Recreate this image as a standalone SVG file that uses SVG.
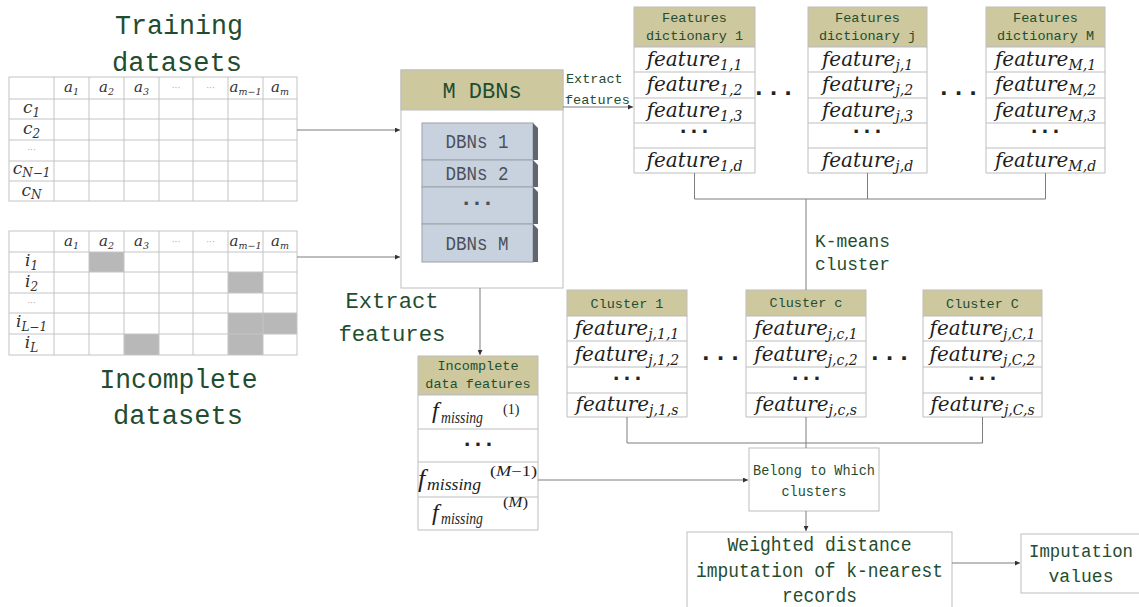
<svg xmlns="http://www.w3.org/2000/svg" width="1139" height="607" viewBox="0 0 1139 607">
<style>
.mono{font-family:"Liberation Mono",monospace;fill:#1f4d30}
.title{font-size:27px}
.big{font-size:22px}
.mid{font-size:19px}
.sm{font-size:13.5px}
.it{font-family:"DejaVu Serif",serif;font-style:italic;fill:#1e1e1e}
.ft{font-size:20px}
.sub{font-size:14px}
.tl{font-size:15px;fill:#333}
.tr{font-size:17px;fill:#333}
.ts{font-size:9.5px}
.trs{font-size:12px}
.lt{font-family:"DejaVu Sans",sans-serif;font-size:9px;fill:#aaa}
.dots{font-family:"DejaVu Sans",sans-serif;font-weight:bold;font-size:18px;fill:#222;letter-spacing:4px}
.dotsb{font-family:"DejaVu Sans",sans-serif;font-weight:bold;font-size:20px;fill:#222;letter-spacing:7px}
.grid{fill:none;stroke:#c4c4c4;stroke-width:1}
.gray{fill:#b8b8b8}
.box{fill:#fff;stroke:#bdbdbd;stroke-width:1}
.hdr{fill:#cdc89e;stroke:#bdbdbd;stroke-width:1}
.dbn{fill:#c8d2de;stroke:#9aa1aa;stroke-width:1}
.side{fill:#62666c}
.dbt{font-family:"Liberation Mono",monospace;font-size:20px;fill:#4a505a}
.conn{fill:none;stroke:#7d7d7d;stroke-width:1}
.mt{font-family:"Liberation Serif",serif;font-style:italic;fill:#1e1e1e}
.up{font-family:"Liberation Serif",serif;fill:#1e1e1e}
</style>
<defs>
<marker id="arr" markerUnits="userSpaceOnUse" markerWidth="5" markerHeight="5" refX="5" refY="2.5" orient="auto">
<path d="M0,0 L5,2.5 L0,5 z" fill="#333"/>
</marker>
</defs>
<rect width="1139" height="607" fill="#fff"/>

<g id="training-datasets">
<text class="mono title" x="179" y="34" text-anchor="middle" textLength="128" lengthAdjust="spacingAndGlyphs">Training</text>
<text class="mono title" x="177" y="71" text-anchor="middle" textLength="130" lengthAdjust="spacingAndGlyphs">datasets</text>
<rect class="grid" x="9" y="77" width="288" height="124"/>
<path class="grid" d="M54,77V201M89,77V201M124,77V201M159,77V201M193,77V201M228,77V201M263,77V201M9,99H297M9,119H297M9,140H297M9,161H297M9,181H297"/>
<g class="it tl">
<text x="71.5" y="92" text-anchor="middle">a<tspan class="ts" dy="3">1</tspan></text>
<text x="106.5" y="92" text-anchor="middle">a<tspan class="ts" dy="3">2</tspan></text>
<text x="141.5" y="92" text-anchor="middle">a<tspan class="ts" dy="3">3</tspan></text>
<text x="245.5" y="92" text-anchor="middle">a<tspan class="ts" dy="3">m−1</tspan></text>
<text x="280" y="92" text-anchor="middle">a<tspan class="ts" dy="3">m</tspan></text>
</g>
<text class="lt" x="176" y="91" text-anchor="middle">···</text>
<text class="lt" x="210.5" y="91" text-anchor="middle">···</text>
<g class="it tr">
<text x="31.5" y="113" text-anchor="middle">c<tspan class="trs" dy="4">1</tspan></text>
<text x="31.5" y="134" text-anchor="middle">c<tspan class="trs" dy="4">2</tspan></text>
<text x="31.5" y="174" text-anchor="middle">c<tspan class="trs" dy="3" font-size="11">N−1</tspan></text>
<text x="31.5" y="196" text-anchor="middle">c<tspan class="trs" dy="3">N</tspan></text>
</g>
<text class="lt" x="31.5" y="153" text-anchor="middle">···</text>
</g>

<g id="incomplete-datasets">
<rect class="gray" x="89" y="252" width="35" height="20"/>
<rect class="gray" x="228" y="272" width="35" height="21"/>
<rect class="gray" x="228" y="313" width="69" height="21"/>
<rect class="gray" x="124" y="334" width="35" height="21"/>
<rect class="gray" x="228" y="334" width="35" height="21"/>
<rect class="grid" x="9" y="231" width="288" height="124"/>
<path class="grid" d="M54,231V355M89,231V355M124,231V355M159,231V355M193,231V355M228,231V355M263,231V355M9,252H297M9,272H297M9,293H297M9,313H297M9,334H297"/>
<g class="it tl">
<text x="71.5" y="246" text-anchor="middle">a<tspan class="ts" dy="3">1</tspan></text>
<text x="106.5" y="246" text-anchor="middle">a<tspan class="ts" dy="3">2</tspan></text>
<text x="141.5" y="246" text-anchor="middle">a<tspan class="ts" dy="3">3</tspan></text>
<text x="245.5" y="246" text-anchor="middle">a<tspan class="ts" dy="3">m−1</tspan></text>
<text x="280" y="246" text-anchor="middle">a<tspan class="ts" dy="3">m</tspan></text>
</g>
<text class="lt" x="176" y="245" text-anchor="middle">···</text>
<text class="lt" x="210.5" y="245" text-anchor="middle">···</text>
<g class="it tr">
<text x="31.5" y="266" text-anchor="middle">i<tspan class="trs" dy="4">1</tspan></text>
<text x="31.5" y="287" text-anchor="middle">i<tspan class="trs" dy="4">2</tspan></text>
<text x="31.5" y="327" text-anchor="middle">i<tspan class="trs" dy="4">L−1</tspan></text>
<text x="31.5" y="348" text-anchor="middle">i<tspan class="trs" dy="4">L</tspan></text>
</g>
<text class="lt" x="31.5" y="306" text-anchor="middle">···</text>
<text class="mono title" x="178.5" y="388" text-anchor="middle" textLength="158" lengthAdjust="spacingAndGlyphs">Incomplete</text>
<text class="mono title" x="178" y="424" text-anchor="middle" textLength="130" lengthAdjust="spacingAndGlyphs">datasets</text>
</g>

<g id="m-dbns">
<rect class="box" x="401" y="70" width="162" height="218"/>
<rect class="hdr" x="401" y="70" width="162" height="40"/>
<text class="mono big" x="482" y="98" text-anchor="middle">M DBNs</text>
<rect class="dbn" x="422" y="123" width="111" height="37"/>
<polygon class="side" points="533,123 538,128 538,160 533,160"/>
<rect class="dbn" x="422" y="160" width="111" height="27"/>
<polygon class="side" points="533,160 538,165 538,187 533,187"/>
<rect class="dbn" x="422" y="187" width="111" height="37"/>
<polygon class="side" points="533,187 538,192 538,224 533,224"/>
<rect class="dbn" x="422" y="224" width="111" height="38"/>
<polygon class="side" points="533,224 538,229 538,262 533,262"/>
<text class="dbt" x="477" y="148" text-anchor="middle" textLength="63" lengthAdjust="spacingAndGlyphs">DBNs 1</text>
<text class="dbt" x="477" y="180" text-anchor="middle" textLength="63" lengthAdjust="spacingAndGlyphs">DBNs 2</text>
<text class="dots" x="479" y="210" text-anchor="middle" style="fill:#4a505a">···</text>
<text class="dbt" x="477" y="250" text-anchor="middle" textLength="63" lengthAdjust="spacingAndGlyphs">DBNs M</text>
</g>

<g id="extract-label-top">
<text class="mono sm" x="566" y="83">Extract</text>
<text class="mono sm" x="565" y="104">features</text>
</g>

<g id="extract-label-big">
<text class="mono big" x="392" y="308" text-anchor="middle" textLength="93" lengthAdjust="spacingAndGlyphs">Extract</text>
<text class="mono big" x="392" y="341" text-anchor="middle" textLength="107" lengthAdjust="spacingAndGlyphs">features</text>
</g>

<g id="dict-1">
<rect class="hdr" x="634" y="7" width="121" height="40"/>
<path class="box" d="M634,47H755V173H634Z M634,72H755M634,98H755M634,123H755M634,148H755"/>
<text class="mono sm" x="694.5" y="22" text-anchor="middle">Features</text>
<text class="mono sm" x="694.5" y="40" text-anchor="middle">dictionary 1</text>
<text class="it ft" x="694.5" y="66" text-anchor="middle">feature<tspan class="sub" dy="4">1,1</tspan></text>
<text class="it ft" x="694.5" y="91" text-anchor="middle">feature<tspan class="sub" dy="4">1,2</tspan></text>
<text class="it ft" x="694.5" y="117" text-anchor="middle">feature<tspan class="sub" dy="4">1,3</tspan></text>
<text class="dots" x="696" y="138" text-anchor="middle">···</text>
<text class="it ft" x="694.5" y="167" text-anchor="middle">feature<tspan class="sub" dy="4">1,d</tspan></text>
</g>
<text class="dotsb" x="777" y="100" text-anchor="middle">···</text>
<g id="dict-j">
<rect class="hdr" x="808" y="7" width="119" height="40"/>
<path class="box" d="M808,47H927V173H808Z M808,72H927M808,98H927M808,123H927M808,148H927"/>
<text class="mono sm" x="867.5" y="22" text-anchor="middle">Features</text>
<text class="mono sm" x="867.5" y="40" text-anchor="middle">dictionary j</text>
<text class="it ft" x="867.5" y="66" text-anchor="middle">feature<tspan class="sub" dy="4">j,1</tspan></text>
<text class="it ft" x="867.5" y="91" text-anchor="middle">feature<tspan class="sub" dy="4">j,2</tspan></text>
<text class="it ft" x="867.5" y="117" text-anchor="middle">feature<tspan class="sub" dy="4">j,3</tspan></text>
<text class="dots" x="869" y="138" text-anchor="middle">···</text>
<text class="it ft" x="867.5" y="167" text-anchor="middle">feature<tspan class="sub" dy="4">j,d</tspan></text>
</g>
<text class="dotsb" x="962" y="100" text-anchor="middle">···</text>
<g id="dict-M">
<rect class="hdr" x="986" y="7" width="119" height="40"/>
<path class="box" d="M986,47H1105V173H986Z M986,72H1105M986,98H1105M986,123H1105M986,148H1105"/>
<text class="mono sm" x="1045.5" y="22" text-anchor="middle">Features</text>
<text class="mono sm" x="1045.5" y="40" text-anchor="middle">dictionary M</text>
<text class="it ft" x="1045.5" y="66" text-anchor="middle">feature<tspan class="sub" dy="4">M,1</tspan></text>
<text class="it ft" x="1045.5" y="91" text-anchor="middle">feature<tspan class="sub" dy="4">M,2</tspan></text>
<text class="it ft" x="1045.5" y="117" text-anchor="middle">feature<tspan class="sub" dy="4">M,3</tspan></text>
<text class="dots" x="1047" y="138" text-anchor="middle">···</text>
<text class="it ft" x="1045.5" y="167" text-anchor="middle">feature<tspan class="sub" dy="4">M,d</tspan></text>
</g>

<g id="kmeans-label">
<text class="mono mid" x="815" y="247" textLength="75" lengthAdjust="spacingAndGlyphs">K-means</text>
<text class="mono mid" x="815" y="270" textLength="75" lengthAdjust="spacingAndGlyphs">cluster</text>
</g>

<g id="cluster-1">
<rect class="hdr" x="567" y="290" width="120" height="26"/>
<path class="box" d="M567,316H687V417H567Z M567,341H687M567,367H687M567,393H687"/>
<text class="mono sm" x="627" y="308" text-anchor="middle">Cluster 1</text>
<text class="it ft" x="627" y="335" text-anchor="middle">feature<tspan class="sub" dy="4">j,1,1</tspan></text>
<text class="it ft" x="627" y="361" text-anchor="middle">feature<tspan class="sub" dy="4">j,1,2</tspan></text>
<text class="dots" x="629" y="385" text-anchor="middle">···</text>
<text class="it ft" x="627" y="411" text-anchor="middle">feature<tspan class="sub" dy="4">j,1,s</tspan></text>
</g>
<text class="dotsb" x="724" y="365" text-anchor="middle">···</text>
<g id="cluster-c">
<rect class="hdr" x="746" y="290" width="120" height="26"/>
<path class="box" d="M746,316H866V417H746Z M746,341H866M746,367H866M746,393H866"/>
<text class="mono sm" x="806" y="307" text-anchor="middle">Cluster c</text>
<text class="it ft" x="806" y="335" text-anchor="middle">feature<tspan class="sub" dy="4">j,c,1</tspan></text>
<text class="it ft" x="806" y="361" text-anchor="middle">feature<tspan class="sub" dy="4">j,c,2</tspan></text>
<text class="dots" x="808" y="385" text-anchor="middle">···</text>
<text class="it ft" x="806" y="411" text-anchor="middle">feature<tspan class="sub" dy="4">j,c,s</tspan></text>
</g>
<text class="dotsb" x="893" y="365" text-anchor="middle">···</text>
<g id="cluster-C">
<rect class="hdr" x="923" y="290" width="119" height="26"/>
<path class="box" d="M923,316H1042V417H923Z M923,341H1042M923,367H1042M923,393H1042"/>
<text class="mono sm" x="982.5" y="308" text-anchor="middle">Cluster C</text>
<text class="it ft" x="982.5" y="335" text-anchor="middle">feature<tspan class="sub" dy="4">j,C,1</tspan></text>
<text class="it ft" x="982.5" y="361" text-anchor="middle">feature<tspan class="sub" dy="4">j,C,2</tspan></text>
<text class="dots" x="984" y="385" text-anchor="middle">···</text>
<text class="it ft" x="982.5" y="411" text-anchor="middle">feature<tspan class="sub" dy="4">j,C,s</tspan></text>
</g>

<g id="incomplete-features">
<rect class="hdr" x="418" y="356" width="120" height="39"/>
<path class="box" d="M418,395H538V530H418Z M418,429H538M418,462H538M418,497H538"/>
<text class="mono sm" x="478" y="370" text-anchor="middle">Incomplete</text>
<text class="mono sm" x="478" y="388" text-anchor="middle">data features</text>
<text class="mt" x="432" y="418" font-size="24">f</text>
<text class="mt" x="441" y="423" font-size="16" textLength="42" lengthAdjust="spacingAndGlyphs">missing</text>
<text class="up" x="503" y="414" font-size="14">(1)</text>
<text class="dots" x="480" y="451" text-anchor="middle">···</text>
<text class="mt" x="418" y="487" font-size="26">f</text>
<text class="mt" x="427" y="490" font-size="17" textLength="54" lengthAdjust="spacingAndGlyphs">missing</text>
<text class="up" x="490" y="476" font-size="14" textLength="47" lengthAdjust="spacingAndGlyphs">(<tspan font-style="italic">M</tspan>−1)</text>
<text class="mt" x="432" y="520" font-size="24">f</text>
<text class="mt" x="441" y="524" font-size="16" textLength="42" lengthAdjust="spacingAndGlyphs">missing</text>
<text class="up" x="503" y="507" font-size="14" textLength="25" lengthAdjust="spacingAndGlyphs">(<tspan font-style="italic">M</tspan>)</text>
</g>

<g id="belong">
<rect class="box" x="749" y="448" width="130" height="63"/>
<text class="mono" x="814" y="475" font-size="15" text-anchor="middle" textLength="122" lengthAdjust="spacingAndGlyphs">Belong to Which</text>
<text class="mono" x="814" y="496" font-size="15" text-anchor="middle" textLength="65" lengthAdjust="spacingAndGlyphs">clusters</text>
</g>

<g id="weighted">
<rect class="box" x="687" y="532" width="265" height="90"/>
<text class="mono" x="819.5" y="551" font-size="20" text-anchor="middle" textLength="184" lengthAdjust="spacingAndGlyphs">Weighted distance</text>
<text class="mono" x="819.5" y="577" font-size="20" text-anchor="middle" textLength="247" lengthAdjust="spacingAndGlyphs">imputation of k-nearest</text>
<text class="mono" x="819.5" y="602" font-size="20" text-anchor="middle" textLength="75" lengthAdjust="spacingAndGlyphs">records</text>
</g>

<g id="imputation">
<rect class="box" x="1021" y="534" width="130" height="59"/>
<text class="mono" x="1081" y="557" font-size="18" text-anchor="middle" textLength="104" lengthAdjust="spacingAndGlyphs">Imputation</text>
<text class="mono" x="1081" y="582" font-size="18" text-anchor="middle" textLength="65" lengthAdjust="spacingAndGlyphs">values</text>
</g>

<g id="connectors">
<path class="conn" d="M297,130H400" marker-end="url(#arr)"/>
<path class="conn" d="M297,257H400" marker-end="url(#arr)"/>
<path class="conn" d="M563,107H633" marker-end="url(#arr)"/>
<path class="conn" d="M694.5,173V199M867.5,173V199M1045.5,173V199M694.5,199H1045.5M806,199V290"/>
<path class="conn" d="M480,288V355" marker-end="url(#arr)"/>
<path class="conn" d="M627,417V443M806,417V448M982.5,417V443M627,443H982.5"/>
<path class="conn" d="M538,480H748" marker-end="url(#arr)"/>
<path class="conn" d="M806,511V531" marker-end="url(#arr)"/>
<path class="conn" d="M952,563H1020" marker-end="url(#arr)"/>
</g>
</svg>
